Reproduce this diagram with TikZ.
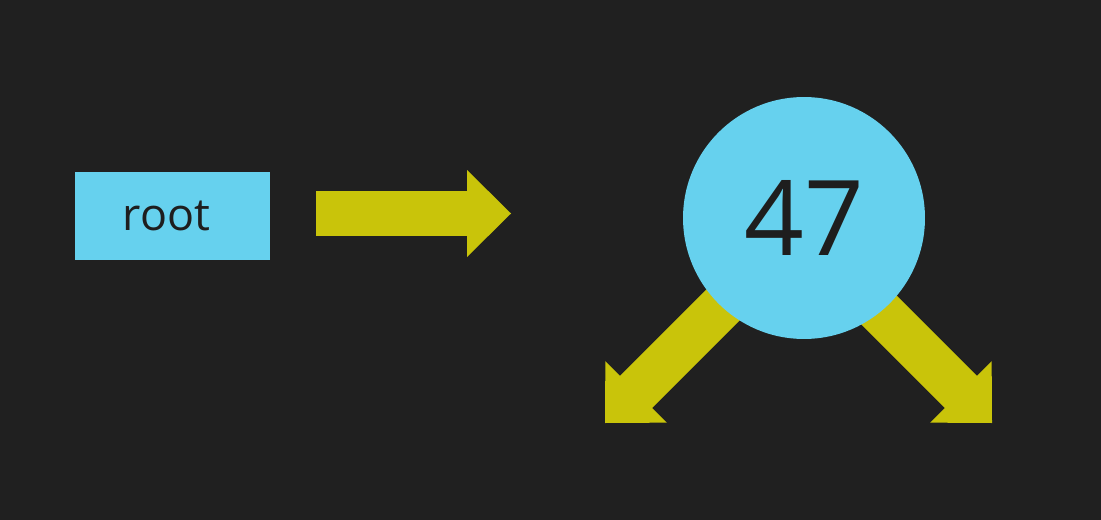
\documentclass[tikz,border=0pt]{standalone}
\usepackage{fontspec}
\setmainfont{Open Sans}
\usetikzlibrary{arrows.meta, calc}
\definecolor{bgGray}{HTML}{202020}
\definecolor{nodeBlue}{HTML}{66D1EE}
\definecolor{arrowYellow}{HTML}{C9C40A}
\definecolor{textDark}{HTML}{1E1E1E}
\pgfdeclarelayer{bgLayer}
\pgfdeclarelayer{arrowLayer}
\pgfsetlayers{bgLayer,arrowLayer,main}

\begin{document}
\begin{tikzpicture}[x=0.02cm, y=-0.02cm,
    boxStyle/.style={rectangle, fill=nodeBlue, text=textDark, minimum width=3.9cm, minimum height=1.76cm, inner sep=0pt, font=\fontsize{25.5}{25.5}\selectfont},
    circStyle/.style={circle, fill=nodeBlue, text=textDark, minimum size=4.84cm, inner sep=0pt, font=\fontsize{59.5}{59.5}\selectfont},
    bigArrow/.style={arrowYellow, line width=0.9cm, -{Triangle[length=0.88cm, width=1.74cm, line width=0pt]}},
    shaftLine/.style={arrowYellow, line width=0.9cm}]
    \begin{pgfonlayer}{bgLayer}
        \fill[bgGray] (0,0) rectangle (1101,520);
    \end{pgfonlayer}

    \node[boxStyle](root) at (172.5, 216) {\kern-0.24cm root};
    \node[circStyle](n47) at (804, 218) {\raisebox{-0.05cm}{47}};

    \coordinate (rightStart) at (316, 213.5);
    \coordinate (rightEnd) at (511, 213.5);
    \coordinate (leftTip) at (605, 423);
    \coordinate (rightTip) at (992, 423);
    \coordinate (leftStart) at (804, 224);
    \coordinate (rightStart2) at (804, 235);

    % arrows, with a plain shaft laid over each head's back edge
    \draw[bigArrow] (rightStart) -- (rightEnd);
    \draw[shaftLine] (rightStart) -- ($(rightEnd)+(-25,0)$);
    \begin{pgfonlayer}{arrowLayer}
        \draw[bigArrow] (leftStart) -- (leftTip);
        \draw[shaftLine] (leftStart) -- ($(leftTip)+(18,-18)$);
        \draw[bigArrow] (rightStart2) -- (rightTip);
        \draw[shaftLine] (rightStart2) -- ($(rightTip)+(-18,-18)$);
    \end{pgfonlayer}
\end{tikzpicture}
\end{document}
